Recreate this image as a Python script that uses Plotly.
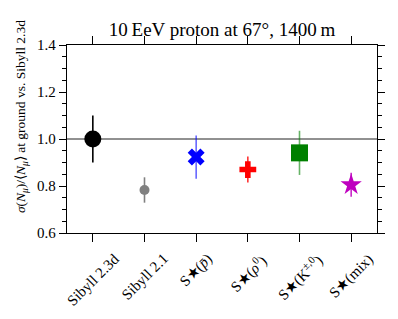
import plotly.graph_objects as go

categories = ["Sibyll 2.3d", "Sibyll 2.1", "S★(<i>p̄</i>)", "S★(<i>ρ</i><sup>0</sup>)",
              "S★(K<sup>±,0</sup>)", "S★(mix)"]
values = [1.000, 0.783, 0.923, 0.870, 0.941, 0.805]
errors = [0.100, 0.054, 0.092, 0.055, 0.094, 0.051]
symbols = ["circle", "circle", "x", "cross", "square", "star"]
colors = ["#000000", "#808080", "#0000ff", "#ff0000", "#008000", "#bf00bf"]
err_colors = ["#000000", "#808080", "rgba(0,0,255,0.6)", "rgba(255,0,0,0.8)",
              "rgba(0,128,0,0.6)", "rgba(191,0,191,0.85)"]
sizes = [17, 10, 15, 14, 17, 16]
yticks = [0.6, 0.8, 1.0, 1.2, 1.4]

FONT = "Liberation Serif"

fig = go.Figure()
for i, cat in enumerate(categories):
    fig.add_trace(go.Scatter(
        x=[i], y=[values[i]], mode="markers",
        marker=dict(symbol=symbols[i], color=colors[i], size=sizes[i], line=dict(width=0)),
        error_y=dict(type="data", array=[errors[i]], color=err_colors[i], thickness=1.6, width=0),
        showlegend=False, hoverinfo="skip",
    ))
# invisible trace to carry the mirrored (top/right) axes
fig.add_trace(go.Scatter(x=[0], y=[1.0], xaxis="x2", yaxis="y2", mode="markers",
                         marker=dict(opacity=0), showlegend=False, hoverinfo="skip"))

fig.add_hline(y=1.0, line=dict(color="#222222", width=1), layer="below")

axis_common = dict(showline=True, linecolor="black", linewidth=1.3, showgrid=False,
                   zeroline=False, ticks="outside", tickwidth=1.2, tickcolor="black")
yminor = dict(dtick=0.05, ticks="outside", ticklen=4, tickwidth=1, tickcolor="black", showgrid=False)

fig.update_layout(
    width=398, height=319,
    margin=dict(l=67, r=21, t=45, b=86),
    paper_bgcolor="white", plot_bgcolor="white",
    font=dict(family=FONT, size=15, color="black"),
    title=dict(text="10\u2009EeV proton at 67°, 1400\u2009m", x=0.5, xanchor="center",
               xref="paper", y=1, yref="container", yanchor="top", pad=dict(t=23),
               font=dict(size=19, family=FONT)),
    xaxis=dict(range=[-0.5, 5.5], tickvals=list(range(len(categories))),
               showticklabels=False, ticklen=8, **axis_common),
    xaxis2=dict(range=[-0.5, 5.5], tickvals=list(range(len(categories))), overlaying="x",
                side="top", showticklabels=False, ticklen=8, **axis_common),
    yaxis=dict(range=[0.6, 1.4], tickvals=yticks, tickformat=".1f", ticklen=7,
               minor=yminor, tickfont=dict(size=15), **axis_common),
    yaxis2=dict(range=[0.6, 1.4], tickvals=yticks, overlaying="y", side="right",
                showticklabels=False, ticklen=7, minor=yminor, **axis_common),
)

for i, cat in enumerate(categories):
    fig.add_annotation(text=cat, xref="x", yref="paper", x=i, y=-0.08, textangle=-45,
                       showarrow=False, xanchor="center", yanchor="top",
                       font=dict(size=15, family=FONT))

fig.add_annotation(
    text="<i>σ</i>(<i>N<sub>μ</sub></i>)/⟨<i>N<sub>μ</sub></i>⟩ at ground vs. Sibyll 2.3d",
    xref="paper", yref="paper", x=-0.148, y=0.617, textangle=-90,
    showarrow=False, xanchor="center", yanchor="middle", font=dict(size=13.5, family=FONT))

fig.write_html("out.html", config={"displayModeBar": False},
               post_script="document.body.style.margin='0';")
